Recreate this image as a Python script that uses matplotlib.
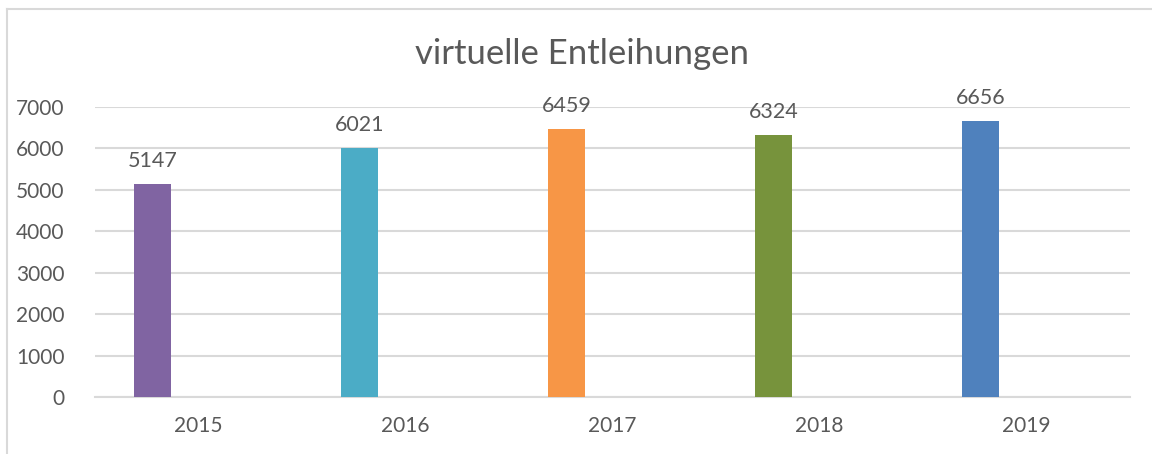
import matplotlib
matplotlib.use("Agg")
import matplotlib.pyplot as plt

years = ["2015", "2016", "2017", "2018", "2019"]
values = [5147, 6021, 6459, 6324, 6656]
colors = ["#8064A2", "#4BACC6", "#F79646", "#77933C", "#4F81BD"]
yticks = [0, 1000, 2000, 3000, 4000, 5000, 6000, 7000]
title = "virtuelle Entleihungen"

plt.rcParams['font.family'] = ['Lato', 'DejaVu Sans']
txt = "#595959"
grid = "#D9D9D9"

fig = plt.figure(figsize=(11.52, 4.54), dpi=100)
ax = fig.add_axes([95/1152, 1-397/454, (1130-95)/1152, (397-107)/454])

x = list(range(len(years)))
offset = -0.223
width = 0.179
bars = ax.bar([i + offset for i in x], values, width=width, color=colors, zorder=3)
for b, v in zip(bars, values):
    ax.annotate(str(v), (b.get_x() + b.get_width()/2, v), xytext=(0, 16.5),
                textcoords="offset points", ha="center", va="center",
                fontsize=15.5, color=txt)

ax.set_xlim(-0.5, len(years) - 0.5)
ax.set_ylim(0, 7000)
ax.set_yticks(yticks)
ax.set_yticklabels([str(t) for t in yticks], fontsize=15, color=txt)
ax.set_xticks(x)
ax.set_xticklabels(years, fontsize=15, color=txt)
ax.tick_params(axis='both', length=0)
ax.tick_params(axis='y', pad=22)
ax.tick_params(axis='x', pad=14)
ax.grid(axis='y', color=grid, linewidth=1.5, zorder=0)
for s in ['top', 'right', 'left']:
    ax.spines[s].set_visible(False)
ax.spines['bottom'].set_color(grid)
ax.spines['bottom'].set_linewidth(1.5)

fig.text(582/1152, 1-54/454, title, ha="center", va="center", fontsize=25, color=txt)

# chart area border (left and top edges visible)
fig.add_artist(plt.Line2D([7/1152, 7/1152], [0, 1-9/454], transform=fig.transFigure, color=grid, linewidth=1.5))
fig.add_artist(plt.Line2D([7/1152, 1], [1-9/454, 1-9/454], transform=fig.transFigure, color=grid, linewidth=1.5))

fig.savefig("out.png", dpi=100)
